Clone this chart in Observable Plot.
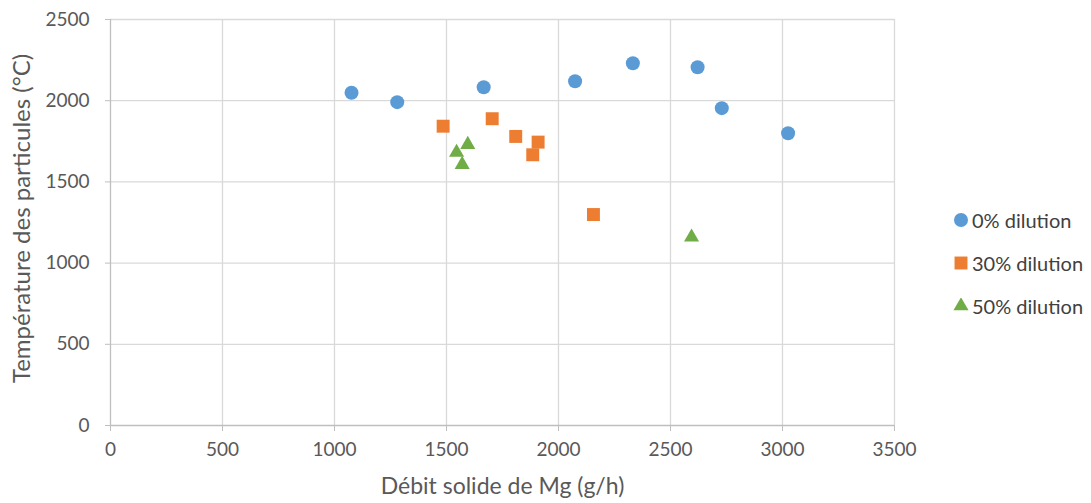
<!DOCTYPE html>
<html>
<head>
<meta charset="utf-8">
<script src="https://cdn.jsdelivr.net/npm/d3@7"></script>
<script src="https://cdn.jsdelivr.net/npm/@observablehq/plot@0.6"></script>
<style>
  html, body { margin: 0; padding: 0; background: #fff; }
  #wrap { position: relative; width: 1091px; height: 503px; font-family: Lato, "Open Sans", sans-serif; }
  #legend { position: absolute; left: 953px; top: 198px; color: #404040; font-size: 20px; }
  #legend .item { display: flex; align-items: center; height: 43px; }
  #legend svg { margin-right: 3px; }
</style>
</head>
<body>
<div id="wrap"><div id="legend"></div></div>
<script>
const seriesNames = ["0% dilution", "30% dilution", "50% dilution"];
const seriesColors = ["#5B9BD5", "#ED7D31", "#70AD47"];
const seriesSymbols = ["circle", "square", "triangle"];
const seriesR = [7, 7.3, 5.6];

const flow0 = [1076, 1280, 1666, 2074, 2332, 2621, 2729, 3025];
const temp0 = [2049, 1991, 2083, 2120, 2231, 2206, 1954, 1800];
const flow30 = [1485, 1704, 1809, 1909, 1885, 2156];
const temp30 = [1843, 1889, 1780, 1745, 1667, 1299];
const flow50 = [1545, 1595, 1570, 2594];
const temp50 = [1681, 1730, 1607, 1160];

const xTicks = [0, 500, 1000, 1500, 2000, 2500, 3000, 3500];
const yTicks = [0, 500, 1000, 1500, 2000, 2500];
const xTitle = "Débit solide de Mg (g/h)";
const yTitle = "Température des particules (°C)";

const flows = [flow0, flow30, flow50];
const temps = [temp0, temp30, temp50];
const data = [];
seriesNames.forEach((s, i) => flows[i].forEach((f, j) => data.push({series: s, flow: f, temp: temps[i][j], r: seriesR[i]})));

const chart = Plot.plot({
  width: 1091, height: 503,
  marginLeft: 110, marginRight: 197, marginTop: 19, marginBottom: 78,
  style: {fontFamily: "Lato, 'Open Sans', sans-serif", fontSize: "19px", color: "#595959", background: "transparent", overflow: "visible"},
  x: {domain: [0, 3500]},
  y: {domain: [0, 2500]},
  color: {domain: seriesNames, range: seriesColors},
  symbol: {domain: seriesNames, range: seriesSymbols},
  r: {type: "identity"},
  marks: [
    Plot.gridX(xTicks.slice(1), {stroke: "#d9d9d9", strokeOpacity: 1, strokeWidth: 1.3}),
    Plot.gridY(yTicks.slice(1), {stroke: "#d9d9d9", strokeOpacity: 1, strokeWidth: 1.3}),
    Plot.ruleX([0], {stroke: "#bfbfbf", strokeWidth: 1.3}),
    Plot.ruleY([0], {stroke: "#bfbfbf", strokeWidth: 1.3}),
    Plot.axisX(xTicks, {tickSize: 6, tickPadding: 11, stroke: "#bfbfbf", fill: "#595959", label: null, fontSize: 19, tickFormat: d => String(d)}),
    Plot.axisY(yTicks, {tickSize: 5, tickPadding: 16, stroke: "#bfbfbf", fill: "#595959", label: null, fontSize: 19, tickFormat: d => String(d)}),
    Plot.dot(data, {x: "flow", y: "temp", fill: "series", symbol: "series", r: "r", stroke: "none"}),
    Plot.text([xTitle], {frameAnchor: "bottom", dy: 68, fill: "#595959", fontSize: 23}),
    Plot.text([yTitle], {frameAnchor: "left", dx: -88, dy: -4, rotate: -90, textAnchor: "middle", fill: "#595959", fontSize: 24})
  ]
});
document.getElementById("wrap").prepend(chart);

const legend = d3.select("#legend");
seriesNames.forEach((s, i) => {
  const item = legend.append("div").attr("class", "item");
  const svg = item.append("svg").attr("width", 16).attr("height", 16);
  const r = seriesR[i];
  const sym = {circle: d3.symbolCircle, square: d3.symbolSquare, triangle: d3.symbolTriangle}[seriesSymbols[i]];
  svg.append("path").attr("transform", "translate(8,8)")
    .attr("d", d3.symbol(sym, Math.PI * r * r)())
    .attr("fill", seriesColors[i]);
  item.append("span").text(s);
});
</script>
</body>
</html>
